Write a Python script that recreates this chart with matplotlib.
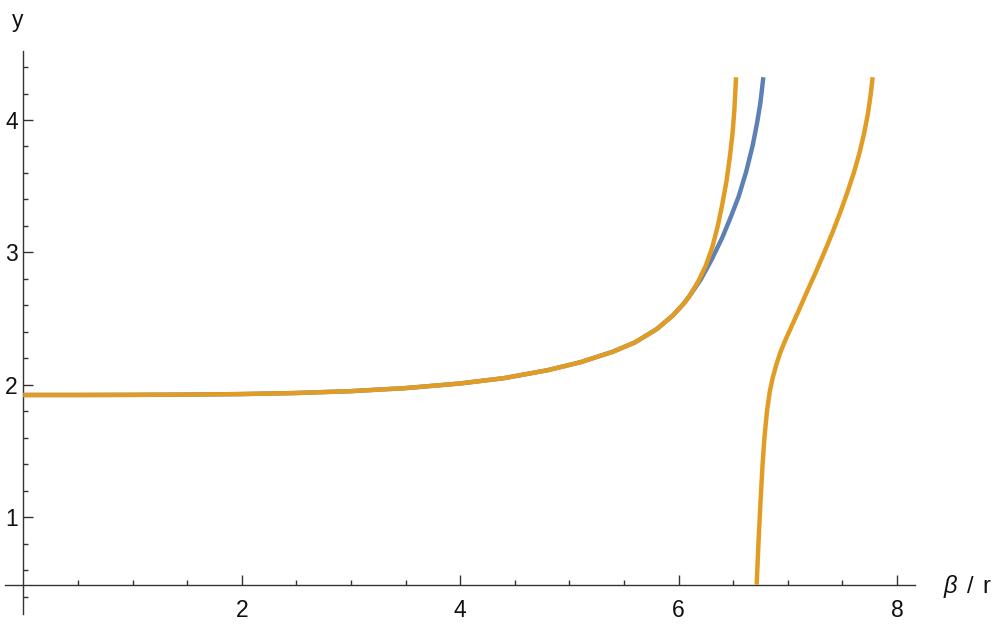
import matplotlib
matplotlib.use("Agg")
import matplotlib.pyplot as plt

plt.rcParams['font.family'] = ['Liberation Sans', 'DejaVu Sans']

# Shared part of both curves (beta/r, y)
common_x = [0.0, 0.5, 1.0, 1.5, 2.0, 2.5, 3.0, 3.5, 4.0, 4.4, 4.8, 5.1, 5.4, 5.6, 5.8, 5.95, 6.05,
            6.10]
common_y = [1.923, 1.923, 1.924, 1.926, 1.930, 1.938, 1.952, 1.975, 2.010, 2.050, 2.110, 2.170,
            2.250, 2.320, 2.420, 2.525, 2.615, 2.670]

# Blue curve continuation
blue_x = [6.10, 6.20, 6.30, 6.40, 6.48, 6.55, 6.62, 6.68, 6.72, 6.75, 6.777]
blue_y = [2.670, 2.790, 2.940, 3.110, 3.270, 3.420, 3.610, 3.810, 3.980, 4.130, 4.323]

# Orange curve continuation (first branch)
orange1_x = [6.10, 6.18, 6.25, 6.31, 6.36, 6.40, 6.44, 6.47, 6.495, 6.512, 6.527]
orange1_y = [2.670, 2.780, 2.900, 3.040, 3.200, 3.360, 3.540, 3.720, 3.900, 4.080, 4.323]

# Orange second branch
orange2_x = [6.716, 6.732, 6.750, 6.770, 6.787, 6.810, 6.836, 6.862, 6.895, 6.935, 6.985, 7.040,
             7.095, 7.175, 7.257, 7.335, 7.410, 7.480, 7.545, 7.605, 7.657, 7.700, 7.735, 7.761,
             7.778]
orange2_y = [0.49, 0.80, 1.10, 1.40, 1.60, 1.80, 1.95, 2.05, 2.15, 2.25, 2.35, 2.45, 2.55, 2.70,
             2.85, 3.00, 3.15, 3.30, 3.45, 3.60, 3.75, 3.90, 4.05, 4.20, 4.323]

blue = '#5E81B5'
orange = '#E19C24'

W, H = 997, 632
fig = plt.figure(figsize=(W / 100, H / 100), dpi=100)

# pixel mapping: px = 23.3 + 109.2*x ; py = 120 + (4 - y)*132.4
xlim = (-0.2, 8.4)
ylim = (0.15, 4.65)
px0 = 23.3 + 109.2 * xlim[0]
px1 = 23.3 + 109.2 * xlim[1]
py_top = 120 + (4 - ylim[1]) * 132.4
py_bot = 120 + (4 - ylim[0]) * 132.4
ax = fig.add_axes([px0 / W, (H - py_bot) / H, (px1 - px0) / W, (py_bot - py_top) / H])
ax.set_xlim(*xlim)
ax.set_ylim(*ylim)
ax.patch.set_alpha(0)

lw = 3.2
ax.plot(common_x + blue_x[1:], common_y + blue_y[1:], color=blue, lw=lw, solid_capstyle='butt',
        solid_joinstyle='round', zorder=3)
ax.plot(common_x + orange1_x[1:], common_y + orange1_y[1:], color=orange, lw=lw,
        solid_capstyle='butt', solid_joinstyle='round', zorder=4)
ax.plot(orange2_x, orange2_y, color=orange, lw=lw, solid_capstyle='butt',
        solid_joinstyle='round', zorder=4)

for s in ['top', 'right']:
    ax.spines[s].set_visible(False)
ax.spines['left'].set_position(('data', 0))
ax.spines['bottom'].set_position(('data', 0.49))
ax.spines['left'].set_bounds(0.27, 4.52)
ax.spines['bottom'].set_bounds(-0.17, 8.17)
for s in ['left', 'bottom']:
    ax.spines[s].set_linewidth(1.0)
    ax.spines[s].set_color('#333333')
    ax.spines[s].set_zorder(2)

ax.set_xticks([2, 4, 6, 8])
ax.set_yticks([1, 2, 3, 4])
ax.set_xticks([x * 0.5 for x in range(1, 17) if x % 4 != 0], minor=True)
ax.set_yticks([0.2 * k for k in range(2, 23) if k % 5 != 0], minor=True)
ax.tick_params(which='both', direction='in', color='#333333', width=1.0,
               labelsize=16.5, labelcolor='#111111')
ax.tick_params(which='major', length=7)
ax.tick_params(which='minor', length=3.8)
ax.tick_params(axis='x', which='major', pad=10)
ax.tick_params(axis='y', which='major', pad=4)

fig.text(18 / W, 1 - 20 / H, 'y', fontsize=16.5, ha='center', va='center', color='#111111')
fig.text(944 / W, 1 - 587 / H, 'β', fontsize=17, style='italic', ha='left', va='center',
         color='#111111')
fig.text(967 / W, 1 - 587 / H, '/', fontsize=17, ha='left', va='center', color='#111111')
fig.text(982 / W, 1 - 587 / H, 'r', fontsize=17, ha='left', va='center', color='#111111')

fig.savefig('out.png', dpi=100)
